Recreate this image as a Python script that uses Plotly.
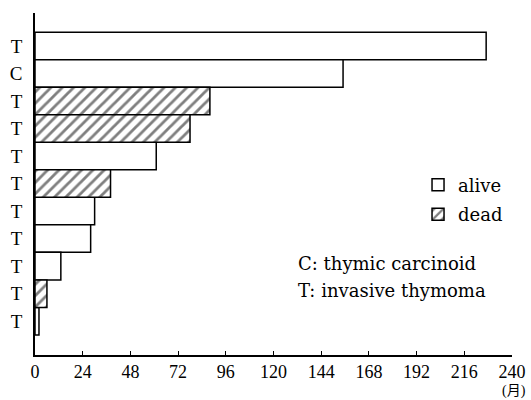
import plotly.graph_objects as go

# Data, top to bottom
labels = ["T", "C", "T", "T", "T", "T", "T", "T", "T", "T", "T"]
months = [227, 155, 88, 78, 61, 38, 30, 28, 13, 6, 2]
status = ["alive", "alive", "dead", "dead", "alive", "dead", "alive", "alive", "alive", "dead", "alive"]
x_ticks = [0, 24, 48, 72, 96, 120, 144, 168, 192, 216, 240]
x_unit = "(月)"
notes = ["C: thymic carcinoid", "T: invasive thymoma"]

n = len(labels)
ypos = [n - 1 - i for i in range(n)]

TIMES = "'Liberation Serif', 'Times New Roman', serif"
WIDE = "'DejaVu Serif', serif"
CJK = "'Liberation Serif', 'Noto Sans CJK JP', serif"

fig = go.Figure()
for st, name in [("alive", "alive"), ("dead", "dead")]:
    xs = [m for m, s in zip(months, status) if s == st]
    ys = [y for y, s in zip(ypos, status) if s == st]
    marker = dict(color="white", line=dict(color="black", width=1.5))
    if st == "dead":
        marker["pattern"] = dict(shape="/", fgcolor="black", bgcolor="white",
                                 size=8, solidity=0.35, fillmode="overlay")
    fig.add_trace(go.Bar(x=xs, y=ys, orientation="h", width=1, name=name,
                         legendgroup=name, marker=marker))

fig.update_layout(
    width=531, height=400,
    margin=dict(l=35, r=19, t=13, b=45, autoexpand=False),
    plot_bgcolor="white", paper_bgcolor="white",
    barmode="overlay",
    font=dict(family=TIMES, size=19, color="black"),
    legend=dict(x=0.803, y=0.551, xanchor="left", yanchor="top",
                bgcolor="rgba(0,0,0,0)", font=dict(family=WIDE, size=18),
                tracegroupgap=3),
    xaxis=dict(range=[0, 240], tickvals=x_ticks,
               showline=True, linecolor="black", linewidth=1.5,
               ticks="inside", ticklen=4, tickcolor="black",
               tickfont=dict(family=TIMES, size=18), ticklabelstandoff=0,
               showgrid=False, zeroline=False, automargin=False),
    yaxis=dict(range=[-1.23, 11.2], tickvals=ypos, ticktext=labels,
               showline=True, linecolor="black", linewidth=1.5,
               tickfont=dict(family=TIMES, size=19),
               ticks="", showgrid=False, zeroline=False, ticklabelstandoff=7,
               automargin=False),
    annotations=[
        dict(x=0.547, y=0.269, xref="paper", yref="paper", xanchor="left",
             yanchor="middle", showarrow=False, text=notes[0],
             font=dict(family=WIDE, size=18)),
        dict(x=0.547, y=0.190, xref="paper", yref="paper", xanchor="left",
             yanchor="middle", showarrow=False, text=notes[1],
             font=dict(family=WIDE, size=18)),
        dict(x=x_ticks[-1], y=-0.106, xref="x", yref="paper", xanchor="center",
             yanchor="middle", xshift=2, showarrow=False, text=x_unit,
             borderpad=0, font=dict(family=CJK, size=14)),
    ],
)

fig.write_html("out.html", config={"displayModeBar": False},
               post_script="document.body.style.margin='0';document.body.style.padding='0';")
